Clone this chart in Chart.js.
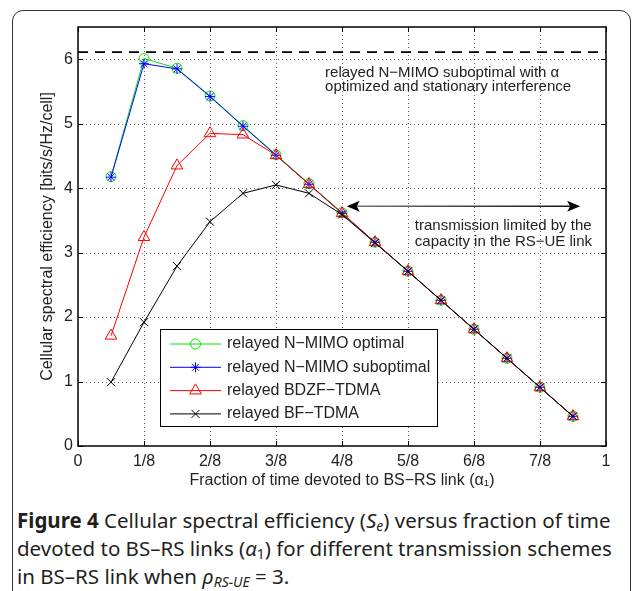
<!DOCTYPE html>
<html>
<head>
<meta charset="utf-8">
<script src="https://cdn.jsdelivr.net/npm/chart.js@4.4.1/dist/chart.umd.min.js"></script>
<style>
  html, body { margin: 0; padding: 0; background: #fff; }
  body { width: 632px; height: 591px; position: relative; overflow: hidden; }
  #frame { position: absolute; left: 12px; top: 10px; width: 619px; height: 600px;
           border: 1.5px solid #333; border-radius: 11px; box-sizing: border-box; }
  #wrap { position: absolute; left: 0; top: 0; width: 632px; height: 495px; }
  #caption { position: absolute; left: 17px; top: 506px; font-family: "Noto Sans", sans-serif;
             font-size: 20.5px; line-height: 28px; color: #231f20; white-space: nowrap; }
  #caption b { font-weight: 700; }
  #caption sub { font-size: 0.68em; line-height: 0; vertical-align: -0.22em; }
</style>
</head>
<body>
<div id="frame"></div>
<div id="wrap"><canvas id="seChart"></canvas></div>
<div id="caption">
  <b>Figure 4</b> Cellular spectral efficiency (<i>S<sub>e</sub></i>) versus fraction of time<br>
  devoted to BS–RS links (<i>α</i><sub>1</sub>) for different transmission schemes<br>
  in BS–RS link when <i>ρ<sub>RS−UE</sub></i> = 3.
</div>
<script>
  // fraction of time devoted to BS-RS link
  const alphaValues = [0.0625, 0.125, 0.1875, 0.25, 0.3125, 0.375, 0.4375, 0.5,
                       0.5625, 0.625, 0.6875, 0.75, 0.8125, 0.875, 0.9375];

  const nmimoOptimal    = [4.18, 6.01, 5.86, 5.43, 4.97, 4.52, 4.07, 3.62, 3.16, 2.71, 2.26, 1.81, 1.36, 0.91, 0.46];
  const nmimoSuboptimal = [4.17, 5.93, 5.85, 5.42, 4.96, 4.51, 4.06, 3.61, 3.16, 2.71, 2.26, 1.81, 1.36, 0.91, 0.46];
  const bdzfTdma        = [1.71, 3.24, 4.35, 4.85, 4.83, 4.51, 4.06, 3.61, 3.16, 2.71, 2.26, 1.81, 1.36, 0.91, 0.46];
  const bfTdma          = [0.99, 1.92, 2.79, 3.48, 3.92, 4.05, 3.92, 3.59, 3.15, 2.71, 2.26, 1.81, 1.36, 0.91, 0.46];

  // stationary interference bound (dashed)
  const boundX = [0, 1];
  const boundY = [6.11, 6.11];

  const xTickValues = [0, 0.125, 0.25, 0.375, 0.5, 0.625, 0.75, 0.875, 1];
  const xTickLabels = ['0', '1/8', '2/8', '3/8', '4/8', '5/8', '6/8', '7/8', '1'];
  const yTickValues = [0, 1, 2, 3, 4, 5, 6];

  const FONT = 'Liberation Sans';
  const toPoints = (xs, ys) => xs.map((x, i) => ({ x: x, y: ys[i] }));

  const series = [
    { label: 'relayed N\u2212MIMO optimal',    data: nmimoOptimal,    color: '#00e600', style: 'circle',   radius: 5,    order: 4 },
    { label: 'relayed N\u2212MIMO suboptimal', data: nmimoSuboptimal, color: '#0000ff', style: 'star',     radius: 5,    order: 3 },
    { label: 'relayed BDZF\u2212TDMA',         data: bdzfTdma,        color: '#ff0000', style: 'triangle', radius: 6.7,  order: 2 },
    { label: 'relayed BF\u2212TDMA',           data: bfTdma,          color: '#000000', style: 'crossRot', radius: 5.7,  order: 1 }
  ];

  const datasets = series.map(s => ({
    label: s.label,
    data: toPoints(alphaValues, s.data),
    showLine: true,
    borderColor: s.color,
    backgroundColor: 'rgba(0,0,0,0)',
    borderWidth: 1,
    pointStyle: s.style,
    pointRadius: s.radius,
    pointBorderColor: s.color,
    pointBackgroundColor: 'rgba(0,0,0,0)',
    pointBorderWidth: 1,
    order: s.order
  }));

  datasets.push({
    label: 'bound',
    data: toPoints(boundX, boundY),
    showLine: true,
    borderColor: '#000',
    borderWidth: 1.8,
    borderDash: [10, 7],
    pointRadius: 0,
    order: 5
  });

  // MATLAB-like axes: dotted grid, box and inward ticks
  const matlabAxes = {
    id: 'matlabAxes',
    beforeDatasetsDraw(chart) {
      const { ctx, chartArea: a, scales: { x, y } } = chart;
      ctx.save();
      ctx.strokeStyle = 'rgba(0,0,0,0.6)';
      ctx.lineWidth = 1;
      ctx.setLineDash([1, 3]);
      xTickValues.forEach(v => {
        const px = Math.round(x.getPixelForValue(v)) + 0.5;
        if (px <= a.left + 1 || px >= a.right - 1) return;
        ctx.beginPath(); ctx.moveTo(px, a.top); ctx.lineTo(px, a.bottom); ctx.stroke();
      });
      yTickValues.forEach(v => {
        const py = Math.round(y.getPixelForValue(v)) + 0.5;
        if (py <= a.top + 1 || py >= a.bottom - 1) return;
        ctx.beginPath(); ctx.moveTo(a.left, py); ctx.lineTo(a.right, py); ctx.stroke();
      });
      ctx.restore();
    },
    afterDatasetsDraw(chart) {
      const { ctx, chartArea: a, scales: { x, y } } = chart;
      ctx.save();
      ctx.strokeStyle = '#000';
      ctx.lineWidth = 1.5;
      ctx.setLineDash([]);
      ctx.strokeRect(a.left, a.top, a.right - a.left, a.bottom - a.top);
      ctx.lineWidth = 1;
      const tl = 5;
      xTickValues.forEach(v => {
        const px = Math.round(x.getPixelForValue(v)) + 0.5;
        ctx.beginPath();
        ctx.moveTo(px, a.bottom); ctx.lineTo(px, a.bottom - tl);
        ctx.moveTo(px, a.top); ctx.lineTo(px, a.top + tl);
        ctx.stroke();
      });
      yTickValues.forEach(v => {
        const py = Math.round(y.getPixelForValue(v)) + 0.5;
        ctx.beginPath();
        ctx.moveTo(a.left, py); ctx.lineTo(a.left + tl, py);
        ctx.moveTo(a.right, py); ctx.lineTo(a.right - tl, py);
        ctx.stroke();
      });

      // text annotations
      ctx.fillStyle = '#222';
      ctx.font = '15px "' + FONT + '"';
      ctx.textBaseline = 'middle';
      ctx.textAlign = 'left';
      const tx1 = x.getPixelForValue(0.468);
      ctx.fillText('relayed N\u2212MIMO suboptimal with \u03b1', tx1, y.getPixelForValue(5.795));
      ctx.fillText('optimized and stationary interference', tx1, y.getPixelForValue(5.565));
      const tx2 = x.getPixelForValue(0.638);
      ctx.fillText('transmission limited by the', tx2, y.getPixelForValue(3.42));
      ctx.fillText('capacity in the RS\u2212UE link', tx2, y.getPixelForValue(3.16));

      // double arrow
      const ay = y.getPixelForValue(3.72);
      const ax1 = x.getPixelForValue(0.509);
      const ax2 = x.getPixelForValue(0.951);
      const grad = ctx.createLinearGradient(ax1, 0, ax2, 0);
      grad.addColorStop(0, '#777');
      grad.addColorStop(1, '#111');
      ctx.strokeStyle = grad;
      ctx.lineWidth = 1.6;
      ctx.beginPath(); ctx.moveTo(ax1 + 8, ay); ctx.lineTo(ax2 - 8, ay); ctx.stroke();
      ctx.fillStyle = '#000';
      [[ax1, 1], [ax2, -1]].forEach(([tip, d]) => {
        ctx.beginPath();
        ctx.moveTo(tip, ay);
        ctx.lineTo(tip + d * 13, ay - 5.5);
        ctx.lineTo(tip + d * 10, ay);
        ctx.lineTo(tip + d * 13, ay + 5.5);
        ctx.closePath();
        ctx.fill();
      });

      // legend box
      const lx = a.left + 82, ly = a.top + 302, lw = 277, lh = 97;
      ctx.fillStyle = '#fff';
      ctx.fillRect(lx, ly, lw, lh);
      ctx.strokeStyle = '#000';
      ctx.lineWidth = 1;
      ctx.strokeRect(lx + 0.5, ly + 0.5, lw, lh);
      series.forEach((s, i) => {
        const ry = ly + 15 + i * 23.3;
        ctx.strokeStyle = s.color;
        ctx.fillStyle = 'rgba(0,0,0,0)';
        ctx.lineWidth = 1;
        ctx.beginPath(); ctx.moveTo(lx + 10, ry); ctx.lineTo(lx + 61, ry); ctx.stroke();
        Chart.helpers.drawPoint(ctx, { pointStyle: s.style, radius: s.radius, rotation: 0, borderWidth: 1 }, lx + 35.5, ry);
        ctx.fillStyle = '#222';
        ctx.font = '16px "' + FONT + '"';
        ctx.textAlign = 'left';
        ctx.textBaseline = 'middle';
        ctx.fillText(s.label, lx + 67, ry);
      });
      ctx.restore();
    }
  };

  const ctx = document.getElementById('seChart').getContext('2d');
  new Chart(ctx, {
    type: 'scatter',
    data: { datasets: datasets },
    options: {
      responsive: true,
      maintainAspectRatio: false,
      animation: false,
      events: [],
      layout: { padding: { left: 38, right: 26, top: 27, bottom: 5 } },
      plugins: { legend: { display: false }, tooltip: { enabled: false } },
      scales: {
        x: {
          type: 'linear',
          min: 0,
          max: 1,
          afterBuildTicks: scale => { scale.ticks = xTickValues.map(v => ({ value: v })); },
          afterFit: scale => { scale.height = 44; },
          ticks: {
            padding: 6,
            color: '#222',
            font: { family: FONT, size: 16 },
            maxRotation: 0,
            autoSkip: false,
            callback: (value, index) => xTickLabels[index]
          },
          grid: { display: false, drawTicks: false },
          border: { display: false },
          title: {
            display: true,
            text: 'Fraction of time devoted to BS\u2212RS link (\u03b1\u2081)',
            color: '#222',
            font: { family: FONT, size: 16 },
            padding: { top: 0, bottom: 0 }
          }
        },
        y: {
          type: 'linear',
          min: 0,
          max: 6.5,
          afterBuildTicks: scale => { scale.ticks = yTickValues.map(v => ({ value: v })); },
          afterFit: scale => { scale.width = 40; },
          ticks: {
            padding: 5,
            color: '#222',
            font: { family: FONT, size: 16 },
            callback: value => String(value)
          },
          grid: { display: false, drawTicks: false },
          border: { display: false },
          title: {
            display: true,
            text: 'Cellular spectral efficiency [bits/s/Hz/cell]',
            color: '#222',
            font: { family: FONT, size: 16 },
            padding: { top: 0, bottom: 0 }
          }
        }
      }
    },
    plugins: [matlabAxes]
  });
</script>
</body>
</html>
